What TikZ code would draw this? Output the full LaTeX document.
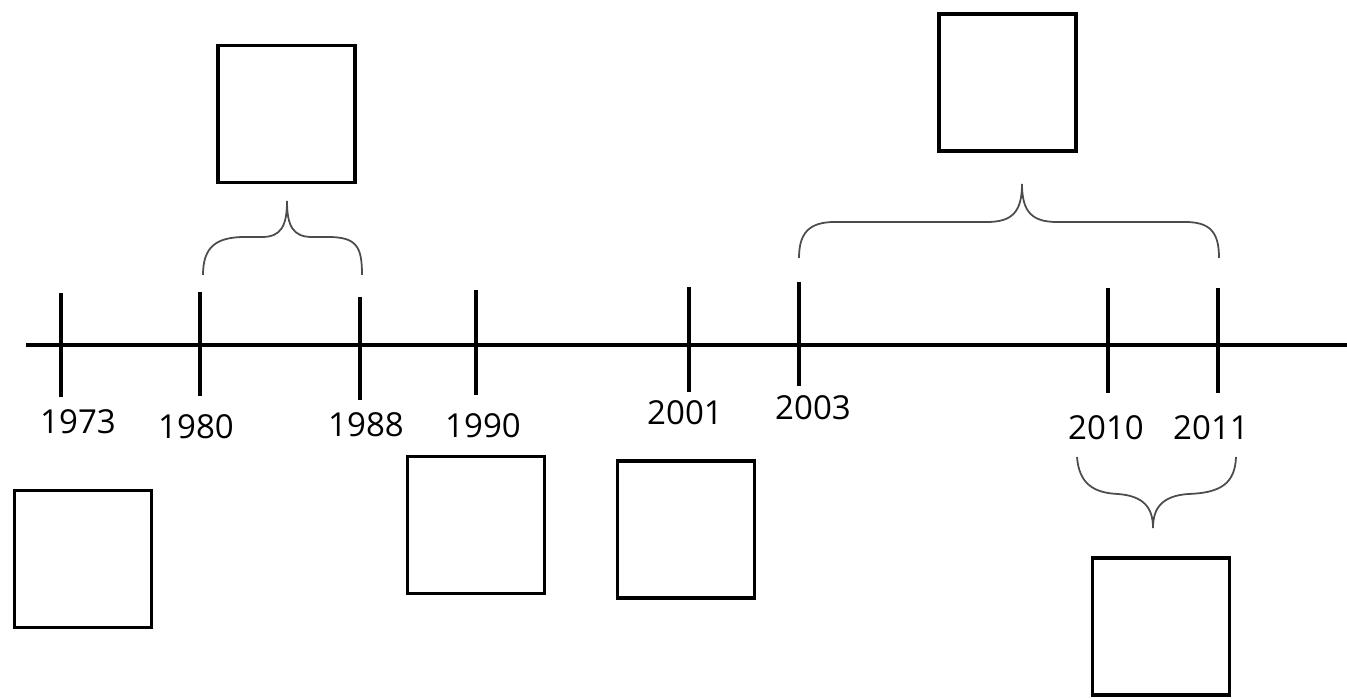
\documentclass[tikz,border=0pt]{standalone}
\usepackage{fontspec}
\setmainfont{Open Sans}
\usepackage{tikz}
\usetikzlibrary{positioning}

\begin{document}
\begin{tikzpicture}[
    x=0.1mm, y=-0.1mm,
    datebox/.style={rectangle, draw, line width=1.05pt, minimum width=1.37cm, minimum height=1.37cm, inner sep=0pt},
    year/.style={font=\fontsize{9.4}{12}\selectfont, inner sep=0pt},
    axisline/.style={line width=1.05pt},
    tickline/.style={line width=1pt},
    bracket/.style={line width=0.5pt, black!70}
]
\useasboundingbox (0,0) rectangle (1347,699);

% Axis
\draw[axisline] (26,345) -- (1347,345);

% Ticks
\draw[tickline] (61,293) -- (61,397);
\draw[tickline] (200,292) -- (200,396);
\draw[tickline] (360,297) -- (360,400);
\draw[tickline] (476,290) -- (476,395);
\draw[tickline] (689,287) -- (689,392);
\draw[tickline] (799,282) -- (799,386);
\draw[tickline] (1108,288) -- (1108,393);
\draw[tickline] (1218,288) -- (1218,393);

% Years
\node[year] (y1973) at (78,422) {1973};
\node[year] (y1980) at (196,427) {1980};
\node[year] (y1988) at (366,425) {1988};
\node[year] (y1990) at (483,426) {1990};
\node[year] (y2001) at (685,413) {2001};
\node[year] (y2003) at (813,408) {2003};
\node[year] (y2010) at (1106,428) {2010};
\node[year] (y2011) at (1211,428) {2011};

% Boxes
\node[datebox] (box8088) at (286.5,114) {};
\node[datebox] (box0311) at (1007.5,82.5) {};
\node[datebox] (box73) at (83,559) {};
\node[datebox] (box90) at (476,525) {};
\node[datebox] (box01) at (686,529.5) {};
\node[datebox] (box1011) at (1161,626.5) {};

% Braces
\draw[bracket] (203,275) .. controls (203,247) and (216,237) .. (245,237)
    -- (262,237) .. controls (281,237) and (287,226) .. (287,201)
    .. controls (287,226) and (293,237) .. (312,237)
    -- (328,237) .. controls (357,237) and (362,247) .. (362,275);

\draw[bracket] (799,258) .. controls (799,232) and (810,222) .. (835,222)
    -- (987,222) .. controls (1012,222) and (1022,212) .. (1022,184)
    .. controls (1022,212) and (1032,222) .. (1057,222)
    -- (1185,222) .. controls (1210,222) and (1219,232) .. (1219,258);

\draw[bracket] (1077,457) .. controls (1079,484) and (1094,493) .. (1118,494)
    .. controls (1144,496) and (1153,508) .. (1153,528)
    .. controls (1153,508) and (1162,496) .. (1188,494)
    .. controls (1220,493) and (1235,484) .. (1236,457);

\end{tikzpicture}
\end{document}
